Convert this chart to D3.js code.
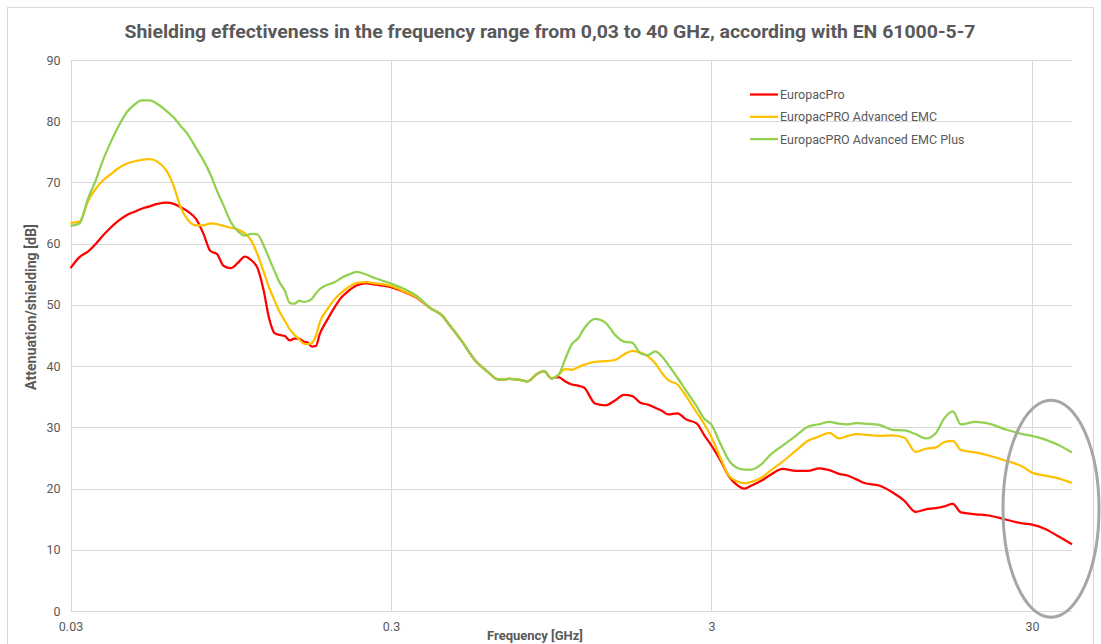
<!DOCTYPE html>
<html>
<head>
<meta charset="utf-8">
<script src="https://cdn.jsdelivr.net/npm/d3@7"></script>
<style>
  html, body { margin: 0; padding: 0; background: #fff; }
  svg { display: block; font-family: Roboto, "Noto Sans", sans-serif; }
</style>
</head>
<body>
<svg id="chart" width="1101" height="644"></svg>
<script>
const title = "Shielding effectiveness in the frequency range from 0,03 to 40 GHz, according with EN 61000-5-7";
const xTitle = "Frequency [GHz]";
const yTitle = "Attenuation/shielding [dB]";
const seriesNames = ["EuropacPro", "EuropacPRO Advanced EMC", "EuropacPRO Advanced EMC Plus"];
const seriesColors = ["#FF0000", "#FFC000", "#92D050"];
const xTickValues = [0.03, 0.3, 3, 30];
const xTickLabels = ["0.03", "0.3", "3", "30"];
const yTickValues = [0, 10, 20, 30, 40, 50, 60, 70, 80, 90];

const freqGHz = [
  0.03, 0.032, 0.034, 0.036, 0.038, 0.04, 0.042, 0.045, 0.048, 0.05,
  0.053, 0.056, 0.06, 0.063, 0.066, 0.07, 0.074, 0.078, 0.082, 0.086,
  0.09, 0.095, 0.1, 0.105, 0.11, 0.115, 0.12, 0.125, 0.13, 0.135,
  0.14, 0.145, 0.15, 0.155, 0.16, 0.165, 0.17, 0.175, 0.18, 0.19,
  0.2, 0.21, 0.22, 0.235, 0.25, 0.27, 0.3, 0.33, 0.36, 0.4,
  0.43, 0.46, 0.5, 0.55, 0.6, 0.65, 0.7, 0.75, 0.8, 0.85,
  0.9, 0.95, 1.0, 1.05, 1.1, 1.15, 1.2, 1.3, 1.4, 1.5,
  1.6, 1.7, 1.8, 1.9, 2.0, 2.1, 2.2, 2.35, 2.5, 2.7,
  2.85, 3.0, 3.2, 3.4, 3.6, 3.8, 4.0, 4.3, 4.6, 5.0,
  5.5, 6.0, 6.5, 7, 7.5, 8, 8.5, 9, 10, 11,
  12, 13, 14, 15, 16, 17, 18, 20, 22, 25,
  28, 30, 33, 36, 40
];

const europacPro = [
  56.0, 57.8, 58.7, 60.0, 61.4, 62.6, 63.6, 64.7, 65.3, 65.7,
  66.1, 66.5, 66.7, 66.5, 66.0, 65.2, 64.0, 61.6, 58.8, 58.3,
  56.4, 56.0, 56.9, 57.9, 57.3, 56.0, 52.5, 47.8, 45.4, 45.1,
  44.9, 44.2, 44.5, 44.5, 44.0, 43.8, 43.2, 43.3, 45.3, 47.6,
  49.6, 51.2, 52.2, 53.2, 53.5, 53.3, 52.9, 52.1, 51.2, 49.4,
  48.4, 46.5, 44.0, 40.9, 39.1, 37.8, 37.9, 37.8, 37.5, 38.6,
  39.2, 38.0, 38.2, 37.5, 37.0, 36.8, 36.5, 33.9, 33.6, 34.4,
  35.3, 35.1, 34.0, 33.7, 33.2, 32.7, 32.1, 32.3, 31.3, 30.6,
  28.7, 27.0, 24.6, 22.0, 20.6, 20.0, 20.5, 21.3, 22.3, 23.2,
  22.9, 22.9, 23.3, 23.0, 22.4, 22.1, 21.5, 20.9, 20.5, 19.4,
  18.0, 16.2, 16.6, 16.8, 17.1, 17.5, 16.1, 15.8, 15.6, 14.9,
  14.3, 14.1, 13.4, 12.3, 10.9
];

const advancedEMC = [
  63.4, 63.6, 66.9, 69.0, 70.4, 71.3, 72.2, 73.1, 73.5, 73.7,
  73.8, 73.4, 71.8, 69.4, 66.1, 63.8, 63.0, 63.0, 63.3, 63.2,
  62.9, 62.6, 62.3, 61.7, 60.5, 58.2, 55.5, 52.8, 50.7, 48.8,
  47.4, 46.0, 45.1, 44.4, 43.7, 43.6, 43.8, 45.0, 47.2, 49.3,
  50.9, 52.0, 52.8, 53.6, 53.7, 53.5, 53.1, 52.2, 51.3, 49.4,
  48.4, 46.5, 44.0, 40.9, 39.1, 37.8, 37.9, 37.8, 37.5, 38.6,
  39.2, 38.0, 38.6, 39.5, 39.4, 39.8, 40.2, 40.7, 40.8, 41.0,
  41.9, 42.5, 42.2, 41.6, 40.5, 38.9, 37.7, 37.0, 35.1, 32.4,
  30.5, 28.4, 25.0, 22.1, 21.2, 20.9, 21.1, 21.8, 23.0, 24.4,
  26.2, 27.8, 28.5, 29.1, 28.2, 28.6, 28.9, 28.8, 28.6, 28.7,
  28.3, 26.0, 26.5, 26.7, 27.6, 27.8, 26.3, 25.9, 25.4, 24.5,
  23.6, 22.6, 22.1, 21.7, 20.9
];

const advancedEMCPlus = [
  62.9, 63.3, 67.3, 70.4, 73.8, 76.5, 78.8, 81.5, 82.9, 83.4,
  83.4, 82.8, 81.6, 80.6, 79.3, 77.7, 75.6, 73.6, 71.3, 68.6,
  66.3, 63.5, 62.0, 61.3, 61.6, 61.5, 59.8, 57.6, 55.5, 53.6,
  52.3, 50.3, 50.2, 50.7, 50.5, 50.6, 51.0, 51.9, 52.6, 53.3,
  53.7, 54.4, 54.9, 55.4, 55.0, 54.3, 53.5, 52.6, 51.5, 49.4,
  48.4, 46.5, 44.0, 40.9, 39.1, 37.8, 37.9, 37.8, 37.5, 38.6,
  39.2, 38.0, 38.6, 41.2, 43.6, 44.5, 46.1, 47.7, 47.1, 45.1,
  44.0, 43.8, 42.1, 41.8, 42.4, 41.6, 40.2, 38.1, 36.0, 33.4,
  31.4, 30.4, 27.3, 24.6, 23.4, 23.1, 23.1, 24.0, 25.6, 27.0,
  28.6, 30.1, 30.5, 30.9, 30.6, 30.5, 30.7, 30.6, 30.4, 29.6,
  29.5, 28.9, 28.2, 29.0, 31.5, 32.6, 30.5, 30.9, 30.6, 29.6,
  28.9, 28.6, 28.0, 27.2, 25.9
];

// highlight ellipse annotation (centre in data units)
const highlightFreq = 34.4;
const highlightValue = 16.7;

const svg = d3.select("#chart");
const textColor = "#595959";
const gridColor = "#D9D9D9";

// chart border
svg.append("rect").attr("x", 7.5).attr("y", 7.5).attr("width", 1086).attr("height", 660)
  .attr("fill", "none").attr("stroke", gridColor).attr("stroke-width", 1);

const x = d3.scaleLog().domain([0.03, 40]).range([70.5, 1072]);
const y = d3.scaleLinear().domain([0, 90]).range([611, 60]);

// horizontal gridlines
svg.append("g").selectAll("line").data(yTickValues).join("line")
  .attr("x1", x(0.03)).attr("x2", x(40))
  .attr("y1", d => Math.round(y(d)) + 0.5).attr("y2", d => Math.round(y(d)) + 0.5)
  .attr("stroke", gridColor).attr("stroke-width", 1);

// vertical gridlines
svg.append("g").selectAll("line").data(xTickValues).join("line")
  .attr("x1", d => Math.round(x(d)) + 0.5).attr("x2", d => Math.round(x(d)) + 0.5)
  .attr("y1", y(90)).attr("y2", y(0))
  .attr("stroke", gridColor).attr("stroke-width", 1);

// y axis labels
const yAxis = d3.axisLeft(y).tickValues(yTickValues).tickSize(0).tickPadding(10);
const gy = svg.append("g").attr("transform", `translate(${x(0.03)},0)`).call(yAxis);
gy.select(".domain").remove();
gy.selectAll("text").attr("fill", textColor).style("font-size", "12.5px").style("font-family", "Roboto");

// x axis labels
const xAxis = d3.axisBottom(x).tickValues(xTickValues)
  .tickFormat((d, i) => xTickLabels[i]).tickSize(0).tickPadding(11);
const gx = svg.append("g").attr("transform", `translate(0,${y(0)})`).call(xAxis);
gx.select(".domain").remove();
gx.selectAll("text").attr("fill", textColor).style("font-size", "12.5px").style("font-family", "Roboto");

// lines
const seriesData = [europacPro, advancedEMC, advancedEMCPlus];
const line = d3.line()
  .x((d, i) => x(freqGHz[i]))
  .y(d => y(d))
  .curve(d3.curveMonotoneX);

svg.append("g").selectAll("path").data(seriesData).join("path")
  .attr("d", d => line(d))
  .attr("fill", "none")
  .attr("stroke", (d, i) => seriesColors[i])
  .attr("stroke-width", 2.25)
  .attr("stroke-linejoin", "round");

// title
svg.append("text").attr("x", 550).attr("y", 38)
  .attr("text-anchor", "middle")
  .attr("fill", textColor)
  .style("font-size", "18px").style("font-weight", "bold")
  .attr("textLength", 851).attr("lengthAdjust", "spacingAndGlyphs")
  .text(title);

// axis titles
svg.append("text").attr("x", 535).attr("y", 640)
  .attr("text-anchor", "middle").attr("fill", textColor)
  .style("font-size", "13px").style("font-weight", "bold")
  .text(xTitle);

svg.append("text").attr("transform", "translate(36,307) rotate(-90)")
  .attr("text-anchor", "middle").attr("fill", textColor)
  .style("font-size", "14px").style("font-weight", "bold")
  .attr("textLength", 166).attr("lengthAdjust", "spacingAndGlyphs")
  .text(yTitle);

// legend
const legend = svg.append("g");
seriesNames.forEach((name, i) => {
  const ly = 94.5 + i * 22.3;
  legend.append("line").attr("x1", 750).attr("x2", 778).attr("y1", ly).attr("y2", ly)
    .attr("stroke", seriesColors[i]).attr("stroke-width", 2.25);
  legend.append("text").attr("x", 780).attr("y", ly + 4.5)
    .attr("fill", textColor).style("font-size", "12.5px")
    .text(name);
});

// highlight ellipse
svg.append("ellipse")
  .attr("cx", x(highlightFreq)).attr("cy", y(highlightValue))
  .attr("rx", 48).attr("ry", 108.5)
  .attr("fill", "none").attr("stroke", "#A6A6A6").attr("stroke-width", 3);
</script>
</body>
</html>
